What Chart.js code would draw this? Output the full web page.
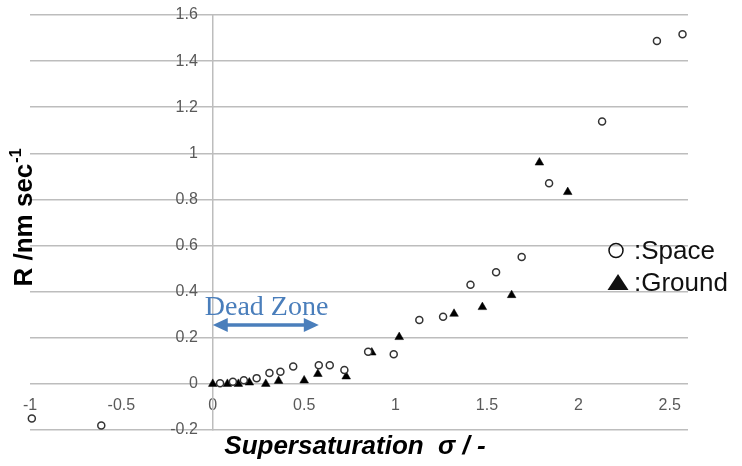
<!DOCTYPE html>
<html>
<head>
<meta charset="utf-8">
<script src="https://cdn.jsdelivr.net/npm/chart.js@4.4.0/dist/chart.umd.min.js"></script>
<style>
  html, body { margin: 0; padding: 0; background: #fff; }
  #wrap { width: 742px; height: 466px; }
</style>
</head>
<body>
<div id="wrap"><canvas id="growthChart"></canvas></div>
<script>
// Space (open circles)
var spaceSigma = [-0.99, -0.61, 0.04, 0.11, 0.17, 0.24, 0.31, 0.37, 0.44, 0.58, 0.64, 0.72,
                  0.85, 0.99, 1.13, 1.26, 1.41, 1.55, 1.69, 1.84, 2.13, 2.43, 2.57];
var spaceRate = [-0.15, -0.18, 0.003, 0.009, 0.016, 0.025, 0.047, 0.053, 0.075, 0.081, 0.081, 0.06,
                 0.139, 0.129, 0.277, 0.291, 0.43, 0.484, 0.55, 0.87, 1.138, 1.487, 1.516];
// Ground (filled triangles)
var groundSigma = [0.0, 0.08, 0.14, 0.2, 0.29, 0.36, 0.5, 0.575, 0.73, 0.87,
                   1.02, 1.32, 1.475, 1.635, 1.787, 1.942];
var groundRate = [0.0, 0.0, 0.0, 0.006, 0.0, 0.013, 0.015, 0.043, 0.032, 0.136,
                  0.203, 0.304, 0.333, 0.385, 0.96, 0.832];

var xTicks = [-1, -0.5, 0, 0.5, 1, 1.5, 2, 2.5];
var yTicks = [-0.2, 0, 0.2, 0.4, 0.6, 0.8, 1, 1.2, 1.4, 1.6];

// dead zone arrow, in data units
var deadZoneFrom = 0;
var deadZoneTo = 0.58;
var deadZoneLevel = 0.255;

function toPoints(xs, ys) {
  return xs.map(function(x, i) { return { x: x, y: ys[i] }; });
}

function fmt(v) {
  return String(Number(v.toFixed(2)));
}

var labelFont = { family: '"Liberation Sans", Arial, sans-serif', size: 16 };

var overlayPlugin = {
  id: 'overlay',
  afterDraw: function(chart) {
    var ctx = chart.ctx;
    var xs = chart.scales.x;
    var ys = chart.scales.y;
    ctx.save();

    // y axis title with superscript
    ctx.save();
    ctx.translate(32, 218);
    ctx.rotate(-Math.PI / 2);
    ctx.fillStyle = '#000';
    ctx.textBaseline = 'alphabetic';
    ctx.font = 'bold 26px "Liberation Sans", Arial, sans-serif';
    var main = 'R /nm sec';
    var w1 = ctx.measureText(main).width;
    ctx.font = 'bold 16px "Liberation Sans", Arial, sans-serif';
    var w2 = ctx.measureText('-1').width;
    var start = -(w1 + w2) / 2;
    ctx.font = 'bold 26px "Liberation Sans", Arial, sans-serif';
    ctx.fillText(main, start, 0);
    ctx.font = 'bold 16px "Liberation Sans", Arial, sans-serif';
    ctx.fillText('-1', start + w1 + 1, -11);
    ctx.restore();

    // x axis title
    ctx.fillStyle = '#000';
    ctx.font = 'italic bold 26px "Liberation Sans", Arial, sans-serif';
    ctx.textAlign = 'center';
    ctx.textBaseline = 'alphabetic';
    ctx.fillText('Supersaturation  \u03c3 / -', 355, 454);

    // Dead Zone annotation
    var blue = '#4a7ebb';
    var ax1 = xs.getPixelForValue(deadZoneFrom);
    var ax2 = xs.getPixelForValue(deadZoneTo);
    var ay = ys.getPixelForValue(deadZoneLevel);
    ctx.fillStyle = blue;
    ctx.strokeStyle = blue;
    ctx.textAlign = 'left';
    ctx.font = '28px "Liberation Serif", "Times New Roman", serif';
    ctx.fillText('Dead Zone', ax1 - 8, ay - 10);
    ctx.lineWidth = 3.5;
    ctx.beginPath();
    ctx.moveTo(ax1 + 10, ay);
    ctx.lineTo(ax2 - 10, ay);
    ctx.stroke();
    var head = 15, half = 7;
    ctx.beginPath();
    ctx.moveTo(ax1, ay);
    ctx.lineTo(ax1 + head, ay - half);
    ctx.lineTo(ax1 + head, ay + half);
    ctx.closePath();
    ctx.fill();
    ctx.beginPath();
    ctx.moveTo(ax2, ay);
    ctx.lineTo(ax2 - head, ay - half);
    ctx.lineTo(ax2 - head, ay + half);
    ctx.closePath();
    ctx.fill();

    // legend
    ctx.fillStyle = '#111';
    ctx.strokeStyle = '#111';
    ctx.lineWidth = 1.5;
    ctx.beginPath();
    ctx.arc(616, 250.5, 7, 0, Math.PI * 2);
    ctx.stroke();
    ctx.beginPath();
    ctx.moveTo(607.5, 290);
    ctx.lineTo(628.5, 290);
    ctx.lineTo(618, 274);
    ctx.closePath();
    ctx.fill();
    ctx.font = '26px "Liberation Sans", Arial, sans-serif';
    ctx.textAlign = 'left';
    ctx.fillText(':Space', 634, 259);
    ctx.fillText(':Ground', 634, 290.5);

    ctx.restore();
  }
};

var ctx = document.getElementById('growthChart').getContext('2d');
new Chart(ctx, {
  type: 'scatter',
  data: {
    datasets: [{
      label: 'Space',
      data: toPoints(spaceSigma, spaceRate),
      pointStyle: 'circle',
      pointRadius: 3.5,
      pointBorderWidth: 1.5,
      borderColor: '#333',
      backgroundColor: '#fff',
      clip: false
    }, {
      label: 'Ground',
      data: toPoints(groundSigma, groundRate),
      pointStyle: 'triangle',
      pointRadius: 5,
      pointBorderWidth: 0.5,
      borderColor: '#000',
      backgroundColor: '#000',
      clip: false
    }]
  },
  options: {
    responsive: true,
    maintainAspectRatio: false,
    animation: false,
    layout: {
      padding: { left: 30, right: 54, top: 15, bottom: 36 }
    },
    plugins: {
      legend: { display: false },
      tooltip: { enabled: false }
    },
    scales: {
      x: {
        type: 'linear',
        min: -1,
        max: 2.6,
        position: { y: 0 },
        afterBuildTicks: function(scale) {
          scale.ticks = xTicks.map(function(v) { return { value: v }; });
        },
        grid: { display: false, drawTicks: false },
        border: { display: false },
        ticks: {
          padding: 12,
          color: '#595959',
          font: labelFont,
          callback: function(v) { return fmt(v); }
        }
      },
      y: {
        type: 'linear',
        min: -0.2,
        max: 1.6,
        position: { x: 0 },
        afterBuildTicks: function(scale) {
          scale.ticks = yTicks.map(function(v) { return { value: v }; });
        },
        grid: { color: '#bdbdbd', lineWidth: 1.5, drawTicks: false },
        border: { display: true, color: '#bdbdbd', width: 1.5 },
        ticks: { display: false }
      },
      // tick labels of the y axis, set a little left of sigma = 0
      yLabels: {
        type: 'linear',
        axis: 'y',
        min: -0.2,
        max: 1.6,
        position: { x: -0.082 },
        afterBuildTicks: function(scale) {
          scale.ticks = yTicks.map(function(v) { return { value: v }; });
        },
        grid: { display: false, drawTicks: false },
        border: { display: false },
        ticks: {
          padding: 0,
          color: '#595959',
          font: labelFont,
          callback: function(v) { return fmt(v); }
        }
      }
    }
  },
  plugins: [overlayPlugin]
});
</script>
</body>
</html>
